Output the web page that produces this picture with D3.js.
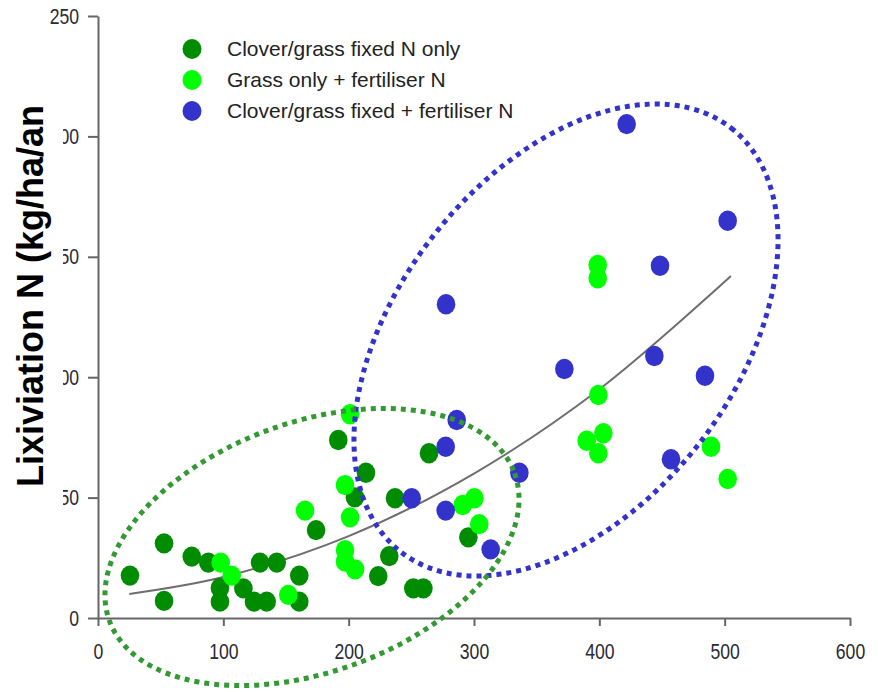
<!DOCTYPE html>
<html>
<head>
<meta charset="utf-8">
<title>Lixiviation N</title>
<script src="https://cdn.jsdelivr.net/npm/d3@7"></script>
<style>
  body { margin: 0; background: #fff; }
  svg { display: block; }
</style>
</head>
<body>
<svg width="878" height="692"></svg>
<script>
var app = app || {};

// values (x = N input, y = leaching kg/ha/an)
var cloverOnly = [
	[25.5, 17.6], [52.7, 31.0], [52.7, 7.1], [74.8, 25.5], [88.0, 23.0],
	[97.3, 12.5], [97.3, 6.8], [116, 12.3], [124.5, 6.8], [134.6, 6.8],
	[129.3, 23.0], [142.6, 23.0], [160.6, 17.6], [160.6, 6.8], [174, 36.5],
	[191.7, 73.9], [213.8, 60.3], [205, 50.1], [223.6, 17.4], [232.4, 25.7],
	[237, 49.7], [251.6, 12.3], [259.6, 12.3], [264.1, 68.4], [295.5, 33.5]
];
var grassFert = [
	[97.9, 23.0], [106.7, 17.6], [151.8, 9.6], [165.2, 44.6], [201.1, 84.6],
	[197.1, 55.2], [201.1, 41.8], [197.1, 28.2], [197.1, 23.4], [205.1, 20.2],
	[291, 46.9], [300.3, 49.7], [304.2, 39.0], [398.7, 146.6], [398.7, 141.1],
	[399.2, 92.6], [389.9, 73.6], [403.2, 76.7], [399.2, 68.4], [489.1, 71.1],
	[502.4, 57.7]
];
var cloverFert = [
	[421.8, 205.1], [502.4, 165.0], [448.4, 146.3], [277.7, 130.3], [372.1, 103.4],
	[443.9, 108.8], [484.3, 100.6], [457.2, 65.9], [286.2, 82.2], [277.4, 71.1],
	[336.2, 60.3], [250.3, 49.7], [277.4, 44.6], [313.3, 28.5]
];
// grey trend curve, points picked along the drawn line
var trend = [[25, 10], [100, 17], [200, 34], [300, 60], [400, 95], [505, 142]];

var seriesNames = ["Clover/grass fixed N only", "Grass only + fertiliser N", "Clover/grass fixed + fertiliser N"];
var seriesColors = ["#008c00", "#00ff00", "#3333cc"];
var xTicks = [0, 100, 200, 300, 400, 500, 600];
var yTicks = [0, 50, 100, 150, 200, 250];
var yTitle = "Lixiviation N (kg/ha/an";

app.main = (function(){

// narrow look for the tick numbers (no narrow font installed)
var squeeze = 0.8;

function draw(){

	var svg = d3.select("svg");

	var x = d3.scaleLinear().domain([0, 600]).range([98, 850]);
	var y = d3.scaleLinear().domain([0, 250]).range([618, 16]);

	// axes
	var xAxis = svg.append("g")
	.attr("transform", "translate(0,618)")
	.call(d3.axisBottom(x).tickValues(xTicks).tickSize(8).tickPadding(17).tickSizeOuter(0));

	var yAxis = svg.append("g")
	.attr("transform", "translate(98,0)")
	.call(d3.axisLeft(y).tickValues(yTicks).tickSize(10).tickPadding(9).tickSizeOuter(0));

	svg.selectAll(".domain, .tick line")
	.attr("stroke", "#666")
	.attr("stroke-width", 2);

	svg.selectAll(".tick text")
	.attr("fill", "#2a2a33")
	.style("font-family", "'Liberation Sans', Arial, sans-serif")
	.style("font-size", "22px");

	xAxis.selectAll(".tick text")
	.attr("transform", "scale(" + squeeze + ",1)");

	yAxis.selectAll(".tick text")
	.attr("x", -19 / squeeze)
	.attr("transform", "scale(" + squeeze + ",1)");

	// the title box in the original hides part of the y labels
	svg.append("rect")
	.attr("x", 0).attr("y", 30)
	.attr("width", 63).attr("height", 570)
	.attr("fill", "#fff");

	svg.append("text")
	.attr("transform", "translate(43,296) rotate(-90)")
	.attr("text-anchor", "middle")
	.style("font-family", "'Liberation Sans', Arial, sans-serif")
	.style("font-weight", "bold")
	.style("font-size", "36px")
	.attr("fill", "#000")
	.text(yTitle);

	// trend
	var line = d3.line()
	.x(function(d){ return x(d[0]); })
	.y(function(d){ return y(d[1]); })
	.curve(d3.curveCatmullRom);

	svg.append("path")
	.datum(trend)
	.attr("d", line)
	.attr("fill", "none")
	.attr("stroke", "#6e6e6e")
	.attr("stroke-width", 2);

	// points
	var groups = [cloverOnly, grassFert, cloverFert];
	groups.forEach(function(data, i){
		svg.append("g")
		.selectAll("ellipse")
		.data(data)
		.enter().append("ellipse")
		.attr("cx", function(d){ return x(d[0]); })
		.attr("cy", function(d){ return y(d[1]); })
		.attr("rx", 9.3)
		.attr("ry", 10.2)
		.attr("fill", seriesColors[i]);
	});

	// dotted ellipses drawn on top (center in data units, size in px)
	var blueC = toData(566, 340, x, y),
	greenC = toData(312, 547, x, y);
	var rings = [
		{cx: blueC[0], cy: blueC[1], rx: 268.7, ry: 168.7, angle: -52.1, color: "#3333cc"},
		{cx: greenC[0], cy: greenC[1], rx: 215.6, ry: 124.8, angle: -20, color: "#339933"}
	];
	svg.selectAll(".ring")
	.data(rings)
	.enter().append("ellipse")
	.attr("class", "ring")
	.attr("transform", function(d){ return "translate(" + x(d.cx) + "," + y(d.cy) + ") rotate(" + d.angle + ")"; })
	.attr("rx", function(d){ return d.rx; })
	.attr("ry", function(d){ return d.ry; })
	.attr("fill", "none")
	.attr("stroke", function(d){ return d.color; })
	.attr("stroke-width", 5)
	.attr("stroke-dasharray", "5,5");

	// legend
	var legend = svg.append("g");
	seriesNames.forEach(function(name, i){
		legend.append("ellipse")
		.attr("cx", 192).attr("cy", 49 + i * 31)
		.attr("rx", 9.5).attr("ry", 10)
		.attr("fill", seriesColors[i]);
		legend.append("text")
		.attr("transform", "translate(227," + (49 + i * 31) + ") scale(1.05,1)")
		.attr("dy", "0.35em")
		.attr("fill", "#222")
		.style("font-family", "'Liberation Sans', Arial, sans-serif")
		.style("font-size", "20px")
		.text(name);
	});
}

// px -> data, only used for placing the hand drawn rings
function toData(px, py, x, y){
	return [x.invert(px), y.invert(py)];
}

	var init = function(){
		draw();
	};

	return {
		init: init
	};
})();

window.addEventListener('DOMContentLoaded', app.main.init);
</script>
</body>
</html>
